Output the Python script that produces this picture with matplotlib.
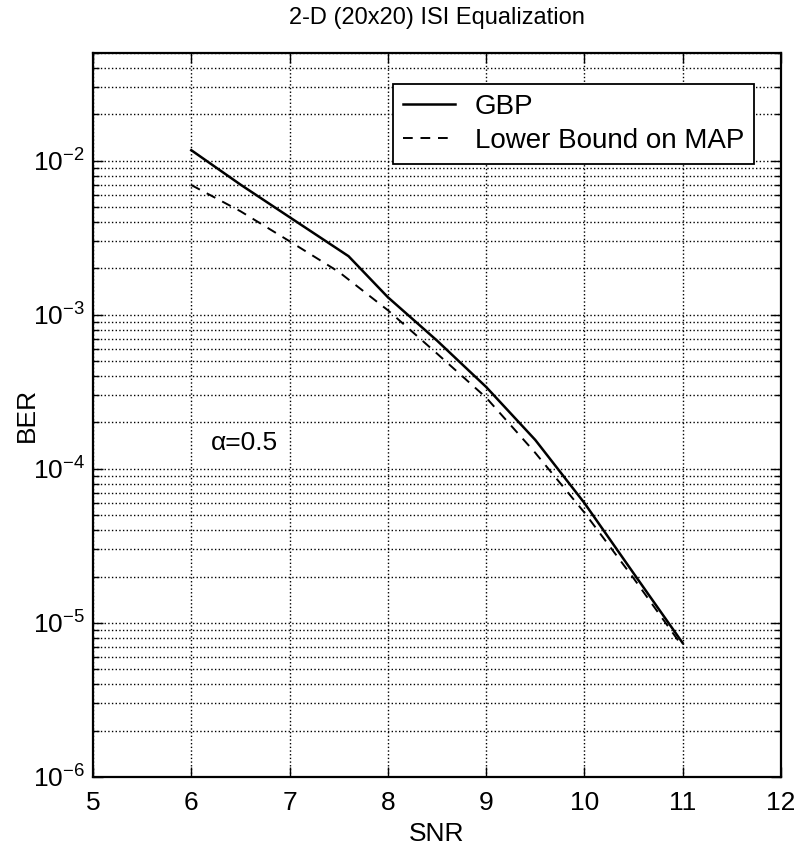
import numpy as np
import matplotlib.pyplot as plt
from matplotlib.ticker import LogLocator, FixedLocator, NullFormatter

plt.rcParams['font.family'] = ['Liberation Sans Narrow', 'Liberation Sans', 'DejaVu Sans']
plt.rcParams['mathtext.fontset'] = 'custom'
plt.rcParams['mathtext.rm'] = 'Liberation Sans'
plt.rcParams['mathtext.it'] = 'Liberation Sans:italic'

# BER vs SNR for the 20x20 2-D ISI channel
snr_gbp = [6.0, 6.5, 7.0, 7.6, 8.0, 8.5, 9.0, 9.5, 10.0, 10.5, 11.0]
ber_gbp = [1.17e-2, 7.0e-3, 4.3e-3, 2.4e-3, 1.3e-3, 6.8e-4, 3.4e-4,
           1.54e-4, 6.0e-5, 2.1e-5, 7.4e-6]

snr_map = [6.0, 6.5, 7.0, 7.5, 8.0, 8.5, 9.0, 9.5, 10.0, 10.5, 11.0]
ber_map = [6.95e-3, 4.7e-3, 3.0e-3, 1.9e-3, 1.07e-3, 5.6e-4, 2.9e-4,
           1.27e-4, 5.2e-5, 1.95e-5, 7.0e-6]

x_ticks = [5, 6, 7, 8, 9, 10, 11, 12]

fig = plt.figure(figsize=(8.08, 8.5), dpi=100)
ax = fig.add_axes([93/808, 1 - 777/850, 688/808, 724/850])

ax.semilogy(snr_gbp, ber_gbp, 'k-', lw=1.8, label='GBP')
ax.semilogy(snr_map, ber_map, 'k--', lw=1.4, dashes=(5, 4), label='Lower Bound on MAP')

ax.set_xlim(5, 12)
ax.set_ylim(1e-6, 5e-2)
ax.xaxis.set_major_locator(FixedLocator(x_ticks))
ax.yaxis.set_major_locator(LogLocator(base=10, numticks=10))
ax.yaxis.set_minor_locator(LogLocator(base=10, subs=np.arange(2, 10), numticks=20))
ax.yaxis.set_minor_formatter(NullFormatter())

# matlab-like dotted grid on major and minor lines
ax.grid(True, which='major', axis='x', color='k', ls=':', lw=1.0)
ax.grid(True, which='both', axis='y', color='k', ls=':', lw=1.0)

ax.tick_params(which='both', direction='in', top=True, right=True, labelsize=19,
               width=1.0, colors='k')
ax.tick_params(which='major', length=7)
ax.tick_params(which='minor', length=4)
ax.tick_params(axis='x', pad=10)
ax.tick_params(axis='y', pad=6)
for sp in ax.spines.values():
    sp.set_linewidth(1.6)

ax.text(6.2, 1.47e-4, 'α=0.5', fontsize=19, va='center', ha='left')

leg = ax.legend(loc='upper right', bbox_to_anchor=((754 - 93) / 688, (777 - 84) / 724),
                borderaxespad=0, fontsize=20, fancybox=False, framealpha=1,
                edgecolor='k', handlelength=1.9, handletextpad=0.7,
                borderpad=0.35, labelspacing=0.3)
leg.get_frame().set_linewidth(1.3)

fig.text((93 + 781) / 2 / 808, 1 - 18 / 850, '2-D (20x20) ISI Equalization',
         ha='center', va='center', fontsize=17)
fig.text((93 + 781) / 2 / 808, 1 - 834 / 850, 'SNR', ha='center', va='center', fontsize=19)
fig.text(27 / 808, 1 - 415 / 850, 'BER', ha='center', va='center', rotation=90, fontsize=19)

fig.savefig('out.png', dpi=100)
